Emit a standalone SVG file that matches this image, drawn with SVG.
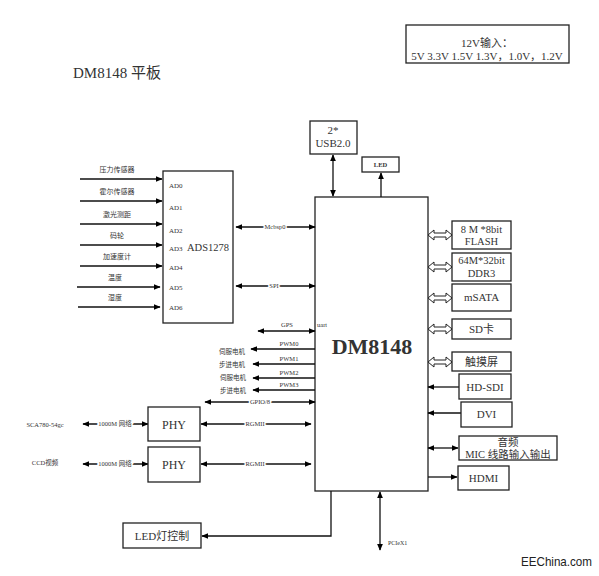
<svg xmlns="http://www.w3.org/2000/svg" width="599" height="576" viewBox="0 0 599 576">
<defs>
<marker id="ah" viewBox="0 0 10 10" refX="9" refY="5" markerWidth="7" markerHeight="6" markerUnits="userSpaceOnUse" orient="auto-start-reverse" preserveAspectRatio="none">
<path d="M0,0 L10,5 L0,10 Z" fill="#000"/>
</marker>
</defs>
<style>
.t{font-family:"Liberation Serif","Noto Sans CJK SC",serif;fill:#333;}
.box{fill:#fff;stroke:#222;stroke-width:1.3;}
.ln{stroke:#111;stroke-width:1.3;fill:none;}
.ha{fill:#fff;stroke:#222;stroke-width:1;}
.lbl{paint-order:stroke;stroke:#fff;stroke-width:3px;}
</style>
<rect width="599" height="576" fill="#fff"/>

<g id="power">
<rect class="box" x="406" y="25" width="163" height="38"/>
<text class="t" x="487" y="47" font-size="11" text-anchor="middle">12V输入：</text>
<text class="t" x="487" y="60" font-size="11" text-anchor="middle">5V 3.3V 1.5V 1.3V，1.0V，1.2V</text>
</g>

<text class="t" x="73" y="78" font-size="15">DM8148 平板</text>

<g id="dm8148">
<rect class="box" x="315" y="197" width="113" height="294"/>
<text class="t" x="372" y="354" font-size="22" font-weight="bold" text-anchor="middle" fill="#111">DM8148</text>
</g>

<g id="connectors">
<line class="ln" x1="80" y1="179" x2="162" y2="179" marker-end="url(#ah)"/>
<line class="ln" x1="80" y1="201" x2="162" y2="201" marker-end="url(#ah)"/>
<line class="ln" x1="80" y1="224" x2="162" y2="224" marker-end="url(#ah)"/>
<line class="ln" x1="80" y1="245" x2="162" y2="245" marker-end="url(#ah)"/>
<line class="ln" x1="80" y1="266" x2="162" y2="266" marker-end="url(#ah)"/>
<line class="ln" x1="77" y1="287" x2="160" y2="287" marker-end="url(#ah)"/>
<line class="ln" x1="78" y1="307" x2="160" y2="307" marker-end="url(#ah)"/>
<line class="ln" x1="236" y1="227" x2="315" y2="227" marker-start="url(#ah)" marker-end="url(#ah)"/>
<line class="ln" x1="236" y1="286" x2="315" y2="286" marker-start="url(#ah)" marker-end="url(#ah)"/>
<line class="ln" x1="333" y1="155" x2="333" y2="196" marker-start="url(#ah)" marker-end="url(#ah)"/>
<line class="ln" x1="381" y1="197" x2="381" y2="173" marker-end="url(#ah)"/>
<line class="ln" x1="258" y1="331" x2="315" y2="331" marker-start="url(#ah)" marker-end="url(#ah)"/>
<line class="ln" x1="315" y1="349" x2="251" y2="349" marker-end="url(#ah)"/>
<line class="ln" x1="315" y1="364" x2="253" y2="364" marker-end="url(#ah)"/>
<line class="ln" x1="315" y1="378" x2="253" y2="378" marker-end="url(#ah)"/>
<line class="ln" x1="315" y1="390" x2="253" y2="390" marker-end="url(#ah)"/>
<line class="ln" x1="205" y1="402" x2="315" y2="402" marker-start="url(#ah)" marker-end="url(#ah)"/>
<line class="ln" x1="83" y1="424" x2="148" y2="424" marker-start="url(#ah)" marker-end="url(#ah)"/>
<line class="ln" x1="83" y1="464" x2="148" y2="464" marker-start="url(#ah)" marker-end="url(#ah)"/>
<line class="ln" x1="201" y1="424" x2="311" y2="424" marker-start="url(#ah)" marker-end="url(#ah)"/>
<line class="ln" x1="201" y1="464" x2="311" y2="464" marker-start="url(#ah)" marker-end="url(#ah)"/>
<path class="ha" d="M428,235 L434,230 L434,233 L446,233 L446,230 L452,235 L446,240 L446,237 L434,237 L434,240 Z"/>
<path class="ha" d="M428,267 L434,262 L434,265 L446,265 L446,262 L452,267 L446,272 L446,269 L434,269 L434,272 Z"/>
<path class="ha" d="M428,298 L434,293 L434,296 L446,296 L446,293 L452,298 L446,303 L446,300 L434,300 L434,303 Z"/>
<path class="ha" d="M428,329 L434,324 L434,327 L446,327 L446,324 L452,329 L446,334 L446,331 L434,331 L434,334 Z"/>
<path class="ha" d="M428,362 L434,357 L434,360 L446,360 L446,357 L452,362 L446,367 L446,364 L434,364 L434,367 Z"/>
<line class="ln" x1="459" y1="387" x2="428" y2="387" marker-end="url(#ah)"/>
<line class="ln" x1="461" y1="413" x2="428" y2="413" marker-end="url(#ah)"/>
<line class="ln" x1="428" y1="448" x2="458" y2="448" marker-start="url(#ah)" marker-end="url(#ah)"/>
<line class="ln" x1="428" y1="477" x2="457" y2="477" marker-end="url(#ah)"/>
<polyline class="ln" points="331,491 331,536 202,536" marker-end="url(#ah)"/>
<line class="ln" x1="380" y1="492" x2="380" y2="550" marker-start="url(#ah)" marker-end="url(#ah)"/>
</g>

<g id="sensor-labels" font-size="7">
<text class="t" x="117" y="172" text-anchor="middle">压力传感器</text>
<text class="t" x="117" y="194" text-anchor="middle">霍尔传感器</text>
<text class="t" x="117" y="217" text-anchor="middle">激光测距</text>
<text class="t" x="117" y="238" text-anchor="middle">码轮</text>
<text class="t" x="117" y="259" text-anchor="middle">加速度计</text>
<text class="t" x="115" y="280" text-anchor="middle">温度</text>
<text class="t" x="115" y="300" text-anchor="middle">湿度</text>
</g>

<g id="ads1278">
<rect class="box" x="163" y="171" width="70" height="152"/>
<text class="t" x="169" y="188" font-size="7">AD0</text>
<text class="t" x="169" y="210" font-size="7">AD1</text>
<text class="t" x="169" y="233" font-size="7">AD2</text>
<text class="t" x="169" y="251" font-size="7">AD3</text>
<text class="t" x="169" y="270" font-size="7">AD4</text>
<text class="t" x="169" y="290" font-size="7">AD5</text>
<text class="t" x="169" y="310" font-size="7">AD6</text>
<text class="t" x="187" y="251" font-size="10.5">ADS1278</text>
</g>

<g id="bus-labels" font-size="6.5">
<text class="t lbl" x="275" y="229" text-anchor="middle">Mcbsp0</text>
<text class="t lbl" x="274" y="288" text-anchor="middle">SPI</text>
<text class="t" x="287" y="327" text-anchor="middle">GPS</text>
<text class="t" x="317" y="327">uart</text>
<text class="t" x="289" y="346" text-anchor="middle">PWM0</text>
<text class="t" x="289" y="361" text-anchor="middle">PWM1</text>
<text class="t" x="289" y="375" text-anchor="middle">PWM2</text>
<text class="t" x="289" y="387" text-anchor="middle">PWM3</text>
<text class="t lbl" x="260" y="404" text-anchor="middle">GPIO/8</text>
<text class="t" x="245" y="354" text-anchor="end">伺服电机</text>
<text class="t" x="245" y="367" text-anchor="end">步进电机</text>
<text class="t" x="246" y="380" text-anchor="end">伺服电机</text>
<text class="t" x="246" y="393" text-anchor="end">步进电机</text>
<text class="t lbl" x="115" y="426" text-anchor="middle">1000M 网络</text>
<text class="t lbl" x="115" y="466" text-anchor="middle">1000M 网络</text>
<text class="t lbl" x="255" y="426" text-anchor="middle">RGMII</text>
<text class="t lbl" x="255" y="466" text-anchor="middle">RGMII</text>
<text class="t" x="45" y="427" text-anchor="middle">SCA780-54gc</text>
<text class="t" x="45" y="465" text-anchor="middle">CCD视频</text>
<text class="t" x="388" y="545" font-size="6">PCIeX1</text>
</g>

<g id="usb">
<rect class="box" x="310" y="121" width="47" height="33"/>
<text class="t" x="333" y="134" font-size="11" text-anchor="middle">2*</text>
<text class="t" x="333" y="147" font-size="11" text-anchor="middle">USB2.0</text>
</g>
<g id="led">
<rect class="box" x="362" y="157" width="37" height="15"/>
<text class="t" x="380.5" y="167" font-size="6.5" font-weight="bold" text-anchor="middle">LED</text>
</g>

<g id="phy1">
<rect class="box" x="148" y="407" width="52" height="34"/>
<text class="t" x="174" y="429" font-size="12" text-anchor="middle">PHY</text>
</g>
<g id="phy2">
<rect class="box" x="148" y="447" width="52" height="35"/>
<text class="t" x="174" y="469" font-size="12" text-anchor="middle">PHY</text>
</g>

<g id="flash">
<rect class="box" x="452" y="221" width="59" height="28"/>
<text class="t" x="481.5" y="233" font-size="10.5" text-anchor="middle">8 M *8bit</text>
<text class="t" x="481.5" y="245" font-size="10.5" text-anchor="middle">FLASH</text>
</g>
<g id="ddr3">
<rect class="box" x="452" y="253" width="59" height="28"/>
<text class="t" x="481.5" y="264" font-size="10.5" text-anchor="middle">64M*32bit</text>
<text class="t" x="481.5" y="277" font-size="10.5" text-anchor="middle">DDR3</text>
</g>
<g id="msata">
<rect class="box" x="452" y="284" width="59" height="27"/>
<text class="t" x="481.5" y="301" font-size="11" text-anchor="middle">mSATA</text>
</g>
<g id="sd">
<rect class="box" x="452" y="319" width="59" height="20"/>
<text class="t" x="481.5" y="333" font-size="11" text-anchor="middle">SD卡</text>
</g>
<g id="touch">
<rect class="box" x="452" y="352" width="59" height="19"/>
<text class="t" x="481.5" y="366" font-size="11" text-anchor="middle">触摸屏</text>
</g>
<g id="hdsdi">
<rect class="box" x="459" y="374" width="52" height="25"/>
<text class="t" x="485" y="391" font-size="11" text-anchor="middle">HD-SDI</text>
</g>
<g id="dvi">
<rect class="box" x="461" y="402" width="51" height="25"/>
<text class="t" x="486.5" y="418" font-size="11" text-anchor="middle">DVI</text>
</g>
<g id="audio">
<rect class="box" x="459" y="436" width="98" height="24"/>
<text class="t" x="508" y="446" font-size="10.5" text-anchor="middle">音频</text>
<text class="t" x="508" y="458" font-size="10.5" text-anchor="middle">MIC 线路输入输出</text>
</g>
<g id="hdmi">
<rect class="box" x="458" y="466" width="51" height="24"/>
<text class="t" x="483.5" y="482" font-size="11" text-anchor="middle">HDMI</text>
</g>
<g id="ledctl">
<rect class="box" x="123" y="523" width="78" height="25"/>
<text class="t" x="162" y="540" font-size="11" text-anchor="middle">LED灯控制</text>
</g>

<text x="521" y="566" font-family="'Liberation Sans',sans-serif" font-size="13" textLength="71" lengthAdjust="spacingAndGlyphs" fill="#222">EEChina.com</text>
</svg>
